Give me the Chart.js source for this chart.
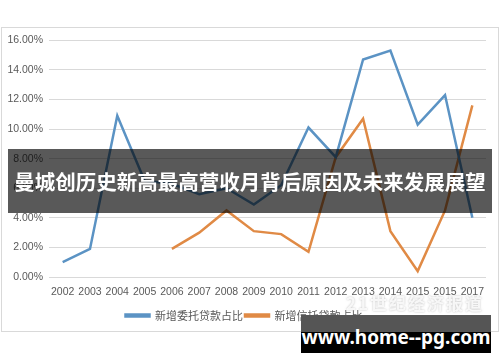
<!DOCTYPE html>
<html lang="zh">
<head>
  <meta charset="UTF-8" />
  <title>新增委托贷款与信托贷款占比</title>
  <script src="https://cdn.jsdelivr.net/npm/chart.js@4.4.0/dist/chart.umd.min.js"></script>
  <style>
    body { margin: 0; width: 500px; height: 362px; background: #fff; position: relative; overflow: hidden;
      font-family: "Noto Sans CJK SC", "Noto Sans", sans-serif; }
    .frame { position: absolute; left: 1px; top: 27px; width: 496px; height: 303px; border: 1px solid #d9d9d9; }
    .banner { position: absolute; left: 8px; top: 149px; width: 484px; height: 64px; background: rgba(0,0,0,0.65);
      color: #fff; font-weight: bold; font-size: 20.5px; line-height: 64px; text-align: center; white-space: nowrap; }
    .stamp { position: absolute; left: 346px; top: 290px; color: rgba(255,255,255,0.85); font-weight: bold;
      font-size: 17px; letter-spacing: 2px; text-shadow: 0 0 2px rgba(120,120,120,0.5); }
    .site { position: absolute; left: 301px; top: 315px; width: 190px; height: 38px; color: #fff;
      background: linear-gradient(#555 0, #555 17px, #000 17px); font-weight: bold; font-size: 19px;
      line-height: 44px; text-align: center; white-space: nowrap; font-family: "Noto Sans", sans-serif; }
  </style>
</head>
<body>
  <div class="frame"><canvas id="chart" width="496" height="303"></canvas></div>
  <div class="stamp">21世纪经济报道</div>
  <div class="banner">曼城创历史新高最高营收月背后原因及未来发展展望</div>
  <div class="site">www.home--pg.com</div>

  <script>
    // 年份（原图中 2016 写成了 2015）
    const years = ["2002", "2003", "2004", "2005", "2006", "2007", "2008", "2009",
      "2010", "2011", "2012", "2013", "2014", "2015", "2015", "2017"];
    // 新增委托贷款占比 (%)
    const entrustedShare = [1.0, 1.9, 10.9, 6.5, 6.3, 5.6, 6.0, 4.9, 6.2, 10.1, 8.1, 14.7, 15.3, 10.3, 12.3, 4.0];
    // 新增信托贷款占比 (%)
    const trustShare = [null, null, null, null, 1.9, 3.0, 4.5, 3.1, 2.9, 1.7, 8.1, 10.7, 3.1, 0.4, 4.5, 11.6];

    const labelColor = "#595959";
    const gridColor = "#d9d9d9";

    new Chart(document.getElementById("chart").getContext("2d"), {
      type: "line",
      data: {
        labels: years,
        datasets: [
          {
            label: "新增委托贷款占比",
            data: entrustedShare,
            borderColor: "#5b93c4",
            backgroundColor: "#5b93c4",
            borderWidth: 2.5,
            pointRadius: 0,
            tension: 0,
          },
          {
            label: "新增信托贷款占比",
            data: trustShare,
            borderColor: "#e08a45",
            backgroundColor: "#e08a45",
            borderWidth: 2.5,
            pointRadius: 0,
            tension: 0,
          },
        ],
      },
      options: {
        responsive: false,
        animation: false,
        layout: { padding: { top: 12, right: 12, left: 0, bottom: 0 } },
        plugins: {
          tooltip: { enabled: false },
          legend: {
            position: "bottom",
            labels: {
              boxWidth: 24,
              boxHeight: 2,
              padding: 2,
              color: labelColor,
              font: { size: 11, family: "'Noto Sans CJK SC', sans-serif" },
            },
          },
        },
        scales: {
          x: {
            offset: true,
            grid: { display: false, drawTicks: false },
            border: { display: false },
            ticks: { color: labelColor, font: { size: 10.5 }, maxRotation: 0, autoSkip: false, padding: 9 },
            afterFit: (s) => { s.height = 31; },
          },
          y: {
            min: 0,
            max: 16,
            grid: { color: gridColor, drawTicks: false },
            border: { display: false },
            ticks: {
              stepSize: 2,
              color: labelColor,
              font: { size: 10.5 },
              padding: 6,
              callback: (v) => v.toFixed(2) + "%",
            },
            afterFit: (s) => { s.width = 47; },
          },
        },
      },
    });
  </script>
</body>
</html>
